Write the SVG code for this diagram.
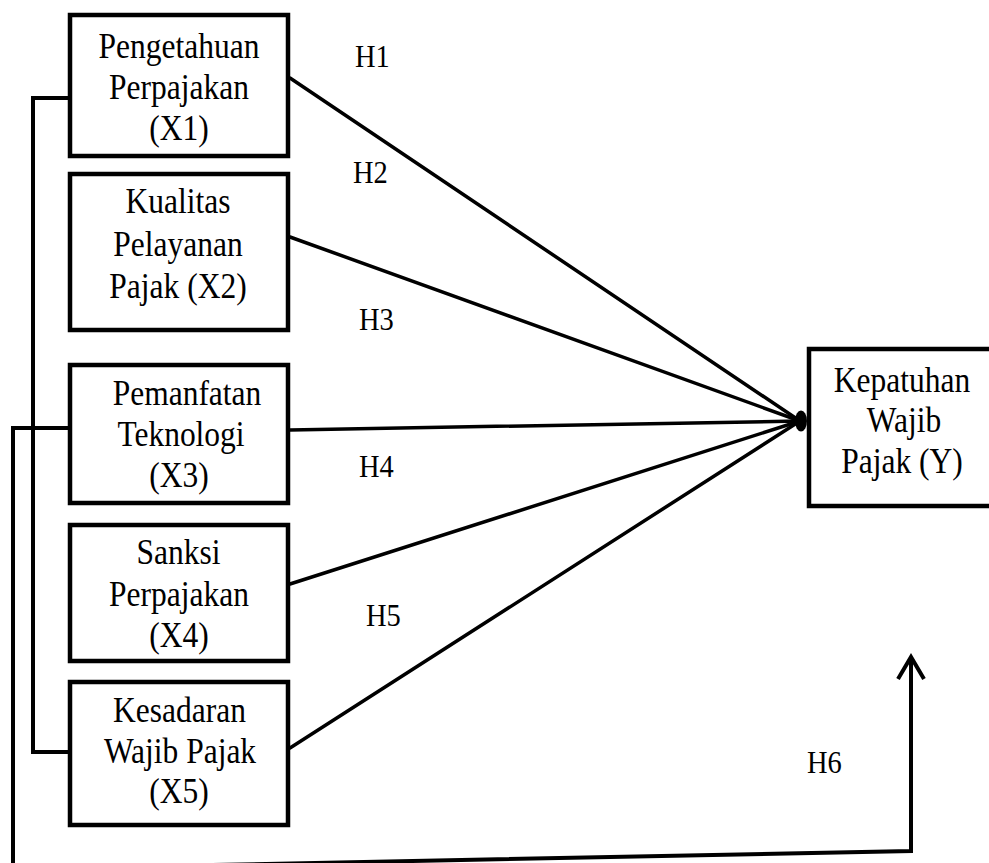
<svg xmlns="http://www.w3.org/2000/svg" width="989" height="863" viewBox="0 0 989 863">
<style>
.box{fill:#fff;stroke:#000;stroke-width:4.5}
.t{font-family:"Liberation Serif","Times New Roman",serif;font-size:31.5px;fill:#000;text-anchor:middle}
.h{font-family:"Liberation Serif","Times New Roman",serif;font-size:28.5px;fill:#000;text-anchor:start}
.ln{fill:none;stroke:#000;stroke-width:3.5;stroke-linecap:round;stroke-linejoin:miter}
.lk{fill:none;stroke:#000;stroke-width:4}
</style>
<rect width="989" height="863" fill="#fff"/>
<g id="connectors">
  <line class="ln" x1="290" y1="78" x2="800" y2="421"/>
  <line class="ln" x1="290" y1="237" x2="800" y2="421"/>
  <line class="ln" x1="290" y1="430" x2="800" y2="421"/>
  <line class="ln" x1="290" y1="584" x2="800" y2="421"/>
  <line class="ln" x1="290" y1="748" x2="800" y2="421"/>
  <ellipse cx="801" cy="421" rx="6" ry="10.5" fill="#000"/>
  <polyline class="lk" points="68,98 33,98 33,752 68,752"/>
  <polyline class="lk" points="68,428 13,428 13,869 911,851 911,657"/>
  <polyline class="lk" points="898,679 911,657 924,679" stroke-linejoin="miter"/>
</g>
<g id="X1">
  <rect class="box" x="70" y="15" width="218" height="141"/>
  <text class="t" transform="translate(179,58) scale(1,1.13)">Pengetahuan</text>
  <text class="t" transform="translate(179,99) scale(1,1.13)">Perpajakan</text>
  <text class="t" transform="translate(179,140) scale(1,1.13)">(X1)</text>
</g>
<g id="X2">
  <rect class="box" x="70" y="174" width="218" height="156"/>
  <text class="t" transform="translate(178,213) scale(1,1.13)">Kualitas</text>
  <text class="t" transform="translate(178,256) scale(1,1.13)">Pelayanan</text>
  <text class="t" transform="translate(178,298) scale(1,1.13)">Pajak (X2)</text>
</g>
<g id="X3">
  <rect class="box" x="70" y="365" width="218" height="138"/>
  <text class="t" transform="translate(187,405) scale(1,1.13)">Pemanfatan</text>
  <text class="t" transform="translate(181,446) scale(1,1.13)">Teknologi</text>
  <text class="t" transform="translate(179,487) scale(1,1.13)">(X3)</text>
</g>
<g id="X4">
  <rect class="box" x="70" y="525" width="218" height="136"/>
  <text class="t" transform="translate(178.5,564) scale(1,1.13)">Sanksi</text>
  <text class="t" transform="translate(179,606) scale(1,1.13)">Perpajakan</text>
  <text class="t" transform="translate(179,647) scale(1,1.13)">(X4)</text>
</g>
<g id="X5">
  <rect class="box" x="70" y="682" width="218" height="143"/>
  <text class="t" transform="translate(179.5,722) scale(1,1.13)">Kesadaran</text>
  <text class="t" transform="translate(180,763) scale(1,1.13)">Wajib Pajak</text>
  <text class="t" transform="translate(179,803) scale(1,1.13)">(X5)</text>
</g>
<g id="Y">
  <rect class="box" x="809" y="349" width="190" height="157"/>
  <text class="t" transform="translate(902,392) scale(1,1.13)">Kepatuhan</text>
  <text class="t" transform="translate(904,432) scale(1,1.13)">Wajib</text>
  <text class="t" transform="translate(902,473) scale(1,1.13)">Pajak (Y)</text>
</g>
<g id="labels">
  <text class="h" transform="translate(355,67) scale(1,1.13)">H1</text>
  <text class="h" transform="translate(353,183) scale(1,1.13)">H2</text>
  <text class="h" transform="translate(359,330) scale(1,1.13)">H3</text>
  <text class="h" transform="translate(359,477) scale(1,1.13)">H4</text>
  <text class="h" transform="translate(366,626) scale(1,1.13)">H5</text>
  <text class="h" transform="translate(807,773) scale(1,1.13)">H6</text>
</g>
</svg>
